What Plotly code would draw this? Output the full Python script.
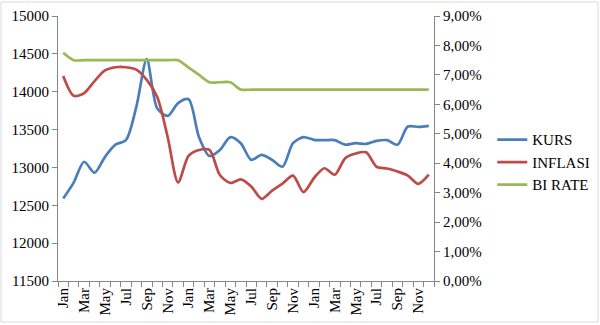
import plotly.graph_objects as go

months = ["Jan", "Feb", "Mar", "Apr", "May", "Jun", "Jul", "Aug", "Sep", "Oct", "Nov", "Dec"] * 3
kurs = [12590, 12800, 13075, 12930, 13140, 13300, 13360, 13800, 14430, 13780, 13680, 13850,
        13900, 13400, 13150, 13230, 13400, 13320, 13100, 13165, 13100, 13010, 13320, 13400,
        13365, 13360, 13360, 13300, 13320, 13310, 13350, 13360, 13300, 13540, 13535, 13550]
inflasi = [6.96, 6.29, 6.38, 6.79, 7.15, 7.26, 7.26, 7.18, 6.83, 6.25, 4.89, 3.35,
           4.25, 4.45, 4.45, 3.60, 3.33, 3.45, 3.21, 2.79, 3.07, 3.31, 3.58, 3.02,
           3.49, 3.83, 3.61, 4.17, 4.33, 4.37, 3.88, 3.82, 3.72, 3.58, 3.30, 3.61]
bi_rate = [7.75, 7.5, 7.5, 7.5, 7.5, 7.5, 7.5, 7.5, 7.5, 7.5, 7.5, 7.5,
           7.25, 7.0, 6.75, 6.75, 6.75, 6.5, 6.5, 6.5, 6.5, 6.5, 6.5, 6.5,
           6.5, 6.5, 6.5, 6.5, 6.5, 6.5, 6.5, 6.5, 6.5, 6.5, 6.5, 6.5]

x = list(range(len(months)))
label_idx = x[::2]
label_txt = [months[i] for i in label_idx]

FONT = "Liberation Serif"
AX = "#868686"

fig = go.Figure()
fig.add_trace(go.Scatter(x=x, y=kurs, name="KURS", mode="lines",
                         line=dict(color="#4A7EBB", width=2.7, shape="spline", smoothing=0.8)))
fig.add_trace(go.Scatter(x=x, y=inflasi, name="INFLASI", mode="lines", yaxis="y2",
                         line=dict(color="#BE4B48", width=2.7, shape="spline", smoothing=0.8)))
fig.add_trace(go.Scatter(x=x, y=bi_rate, name="BI RATE", mode="lines", yaxis="y2",
                         line=dict(color="#98B954", width=2.7, shape="spline", smoothing=0.8)))

fig.update_layout(
    width=600, height=325,
    margin=dict(l=58, r=166, t=16, b=44, autoexpand=False),
    paper_bgcolor="white", plot_bgcolor="white",
    font=dict(family=FONT, size=15, color="#000000"),
    separators=",.",
    showlegend=True,
    legend=dict(x=1.155, y=0.595, xanchor="left", yanchor="top",
                font=dict(family=FONT, size=15), bgcolor="rgba(0,0,0,0)"),
    xaxis=dict(range=[-0.5, len(x) - 0.5], tickmode="array", tickvals=label_idx, ticktext=label_txt,
               tickangle=-90, ticks="", showgrid=False, zeroline=False, automargin=False,
               showline=True, linecolor=AX, linewidth=1,
               minor=dict(ticks="outside", ticklen=5, tickcolor=AX, dtick=1, tick0=0.5, showgrid=False)),
    yaxis=dict(range=[11500, 15000], dtick=500, tickformat="d", showgrid=False, zeroline=False,
               automargin=False,
               showline=True, linecolor=AX, linewidth=1, ticks="outside", ticklen=5, tickcolor=AX),
    yaxis2=dict(range=[0, 9], dtick=1, tickformat=".2f", ticksuffix="%", overlaying="y", side="right",
                automargin=False,
                showgrid=False, zeroline=False, showline=True, linecolor=AX, linewidth=1,
                ticks="outside", ticklen=5, tickcolor=AX),
)

fig.add_shape(type="rect", xref="paper", yref="paper",
              x0=(1 - 58) / 376, x1=(598 - 58) / 376, y0=(281 - 322) / 265, y1=(281 - 2) / 265,
              line=dict(color="#D9D9D9", width=1), fillcolor="rgba(0,0,0,0)", layer="below")

fig.write_html("out.html")
